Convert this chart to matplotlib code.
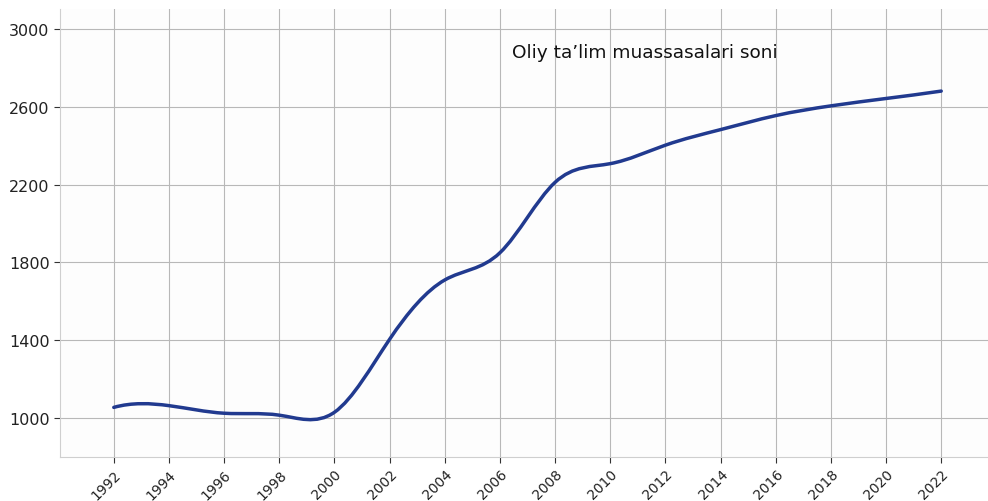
import numpy as np
import matplotlib
matplotlib.use("Agg")
import matplotlib.pyplot as plt
from matplotlib.path import Path
from matplotlib.patches import PathPatch

# Data (every second year)
years = [1992, 1994, 1996, 1998, 2000, 2002, 2004, 2006,
         2008, 2010, 2012, 2014, 2016, 2018, 2020, 2022]
counts = [1055, 1064, 1025, 1015, 1030, 1405, 1710, 1850,
          2212, 2308, 2403, 2483, 2555, 2605, 2643, 2681]
yticks = [1000, 1400, 1800, 2200, 2600, 3000]
title = "Oliy ta\u2019lim muassasalari soni"


def spline_path(x, y):
    # not-a-knot cubic spline through the points, drawn as Bezier segments
    x = np.asarray(x, float)
    y = np.asarray(y, float)
    n = len(x)
    h = np.diff(x)
    A = np.zeros((n, n))
    b = np.zeros(n)
    A[0, :3] = [h[1], -(h[0] + h[1]), h[0]]
    A[-1, -3:] = [h[-1], -(h[-2] + h[-1]), h[-2]]
    for i in range(1, n - 1):
        A[i, i - 1] = h[i - 1]
        A[i, i] = 2 * (h[i - 1] + h[i])
        A[i, i + 1] = h[i]
        b[i] = 6 * ((y[i + 1] - y[i]) / h[i] - (y[i] - y[i - 1]) / h[i - 1])
    M = np.linalg.solve(A, b)
    # first derivative at each knot
    d = np.zeros(n)
    d[:-1] = (y[1:] - y[:-1]) / h - h * (2 * M[:-1] + M[1:]) / 6
    d[-1] = (y[-1] - y[-2]) / h[-1] + h[-1] * (M[-2] + 2 * M[-1]) / 6
    verts = [(x[0], y[0])]
    codes = [Path.MOVETO]
    for i in range(n - 1):
        verts += [(x[i] + h[i] / 3, y[i] + d[i] * h[i] / 3),
                  (x[i + 1] - h[i] / 3, y[i + 1] - d[i + 1] * h[i] / 3),
                  (x[i + 1], y[i + 1])]
        codes += [Path.CURVE4] * 3
    return Path(verts, codes)


fig = plt.figure(figsize=(9.88, 5.02), dpi=100)
ax = fig.add_axes([60 / 988, 44 / 502, 935 / 988, 448 / 502])
ax.set_facecolor("#fdfdfd")

line = PathPatch(spline_path(years, counts), facecolor="none",
                 edgecolor="#213a8f", lw=2.5, capstyle="round", zorder=3)
ax.add_patch(line)

ax.set_xlim(1990.05, 2023.95)
ax.set_ylim(800, 3103)
ax.set_xticks(years)
ax.set_xticklabels([str(t) for t in years], rotation=45, ha="right",
                   rotation_mode="anchor", fontsize=10)
ax.set_yticks(yticks)
ax.set_yticklabels([str(t) for t in yticks], fontsize=11.5)
ax.grid(True, color="#b8b8b8", lw=0.8)
ax.set_axisbelow(True)
ax.tick_params(length=4, color="#333333", labelcolor="#222222")
ax.tick_params(axis="x", pad=3)

for side in ["top", "right"]:
    ax.spines[side].set_visible(False)
for side in ["left", "bottom"]:
    ax.spines[side].set_color("#cfcfcf")

ax.text(0.6255, 0.905, title, transform=ax.transAxes, ha="center",
        va="center", fontsize=13.3, color="#111111")

fig.savefig("out.png", dpi=100)
